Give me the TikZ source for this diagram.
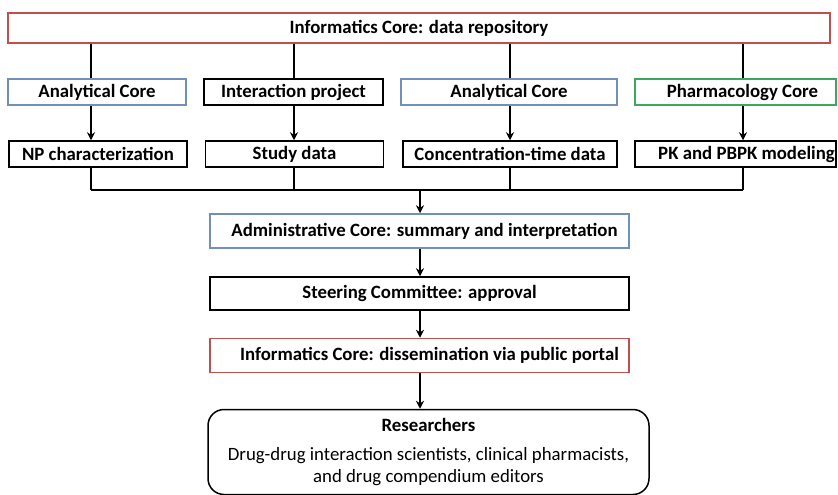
\documentclass[tikz,border=0pt]{standalone}
\usepackage{fontspec}
\setmainfont{Carlito}
\usetikzlibrary{arrows.meta,calc}
\definecolor{cred}{HTML}{C0504D}
\definecolor{cblue}{HTML}{7090BB}
\definecolor{cgreen}{HTML}{3FA65F}
\begin{document}
\begin{tikzpicture}[x=1pt,y=-1pt,
  box/.style={draw=black,line width=1.5pt,minimum height=26pt,inner sep=0pt,
    font=\fontsize{18.8}{22}\selectfont\bfseries},
  conn/.style={line width=1.4pt},
  arr/.style={line width=1.4pt,-{Stealth[length=8pt,width=8pt]}}]
\useasboundingbox (0,0) rectangle (838,495);
% top
\node[box,draw=cred,minimum width=822pt,minimum height=30pt] (top) at (419,28) {Informatics Core: data repository};
% row 2
\node[box,draw=cblue,minimum width=178pt] (ac1) at (97,92) {Analytical Core};
\node[box,minimum width=179pt] (ip) at (293.5,92) {Interaction project};
\node[box,draw=cblue,minimum width=216pt] (ac2) at (509,92) {Analytical Core};
\node[box,draw=cgreen,minimum width=201pt] (pc) at (735.5,92) {\hspace{14pt}Pharmacology Core};
% row 3
\node[box,minimum width=178pt] (np) at (98,154) {NP characterization};
\node[box,minimum width=178pt] (sd) at (294.5,154) {Study data};
\node[box,minimum width=214pt] (ct) at (510,154) {Concentration-time data};
\node[box,minimum width=201pt] (pk) at (735.5,154) {\hspace{22pt}PK and PBPK modeling};
% column x positions
\coordinate (c1) at (91,0);
\coordinate (c2) at (294,0);
\coordinate (c3) at (510,0);
\coordinate (c4) at (743,0);
\coordinate (cm) at (420,0);
\coordinate (m1) at (91,190);
\coordinate (m4) at (743,190);
\coordinate (mm) at (420,190);
% lower boxes
\node[box,draw=cblue,minimum width=419pt,minimum height=34pt] (adm) at (419.5,231) {\hspace{10pt}Administrative Core: summary and interpretation};
\node[box,minimum width=419pt,minimum height=33pt] (sc) at (419.5,293.5) {Steering Committee: approval};
\node[box,draw=cred,minimum width=419pt,minimum height=34pt] (dis) at (419.5,355.5) {\hspace{20pt}Informatics Core: dissemination via public portal};
\node[draw=black,line width=1.5pt,rounded corners=16pt,minimum width=441pt,minimum height=85pt,inner sep=0pt,align=center,
  font=\fontsize{18.8}{22}\selectfont] (res) at (428.5,452)
  {\textbf{Researchers}\\[7pt]Drug-drug interaction scientists, clinical pharmacists,\\and drug compendium editors};
% connectors top -> row2
\draw[conn] (top.south -| c1) -- (ac1.north -| c1);
\draw[conn] (top.south -| c2) -- (ip.north -| c2);
\draw[conn] (top.south -| c3) -- (ac2.north -| c3);
\draw[conn] (top.south -| c4) -- (pc.north -| c4);
% row2 -> row3
\draw[arr] (ac1.south -| c1) -- (np.north -| c1);
\draw[arr] (ip.south -| c2) -- (sd.north -| c2);
\draw[arr] (ac2.south -| c3) -- (ct.north -| c3);
\draw[arr] (pc.south -| c4) -- (pk.north -| c4);
% row3 -> merge
\draw[conn] (np.south -| c1) -- (m1);
\draw[conn] (sd.south -| c2) -- (mm -| c2);
\draw[conn] (ct.south -| c3) -- (mm -| c3);
\draw[conn] (pk.south -| c4) -- (m4);
\draw[conn] (m1) -- (m4);
% merge -> admin -> ...
\draw[arr] (mm) -- (adm.north -| cm);
\draw[arr] (adm.south -| cm) -- (sc.north -| cm);
\draw[arr] (sc.south -| cm) -- (dis.north -| cm);
\draw[arr] (dis.south -| cm) -- (res.north -| cm);
\end{tikzpicture}
\end{document}
